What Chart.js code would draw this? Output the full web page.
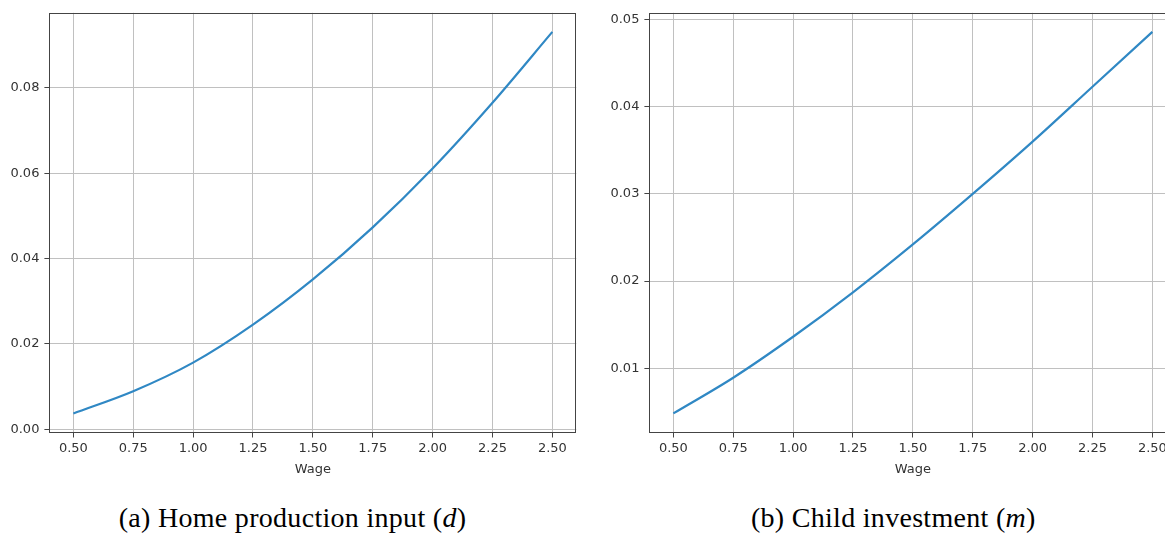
<!DOCTYPE html>
<html>
<head>
<meta charset="utf-8">
<script src="https://cdn.jsdelivr.net/npm/chart.js@4/dist/chart.umd.min.js"></script>
<style>
  html, body { margin: 0; padding: 0; background: #fff; overflow: hidden; }
  #page { position: relative; width: 1165px; height: 538px; overflow: hidden; }
  .panel { position: absolute; top: 0; width: 577px; height: 480px; }
  .caption {
    position: absolute; top: 504px; width: 500px;
    font-family: 'Liberation Serif', 'Times New Roman', serif;
    font-size: 28px; line-height: 1; letter-spacing: 0.3px;
    white-space: nowrap; color: #000; text-align: center;
  }
</style>
</head>
<body>
<div id="page">
  <div class="panel" style="left:0px"><canvas id="chartD"></canvas></div>
  <div class="panel" style="left:600px"><canvas id="chartM"></canvas></div>
  <div class="caption" style="left:42.5px">(a) Home production input (<i>d</i>)</div>
  <div class="caption" style="left:643.3px">(b) Child investment (<i>m</i>)</div>
</div>
<script>
// Wage grid and the two policy functions evaluated on it
const wage = [0.50, 0.75, 1.00, 1.25, 1.50, 1.75, 2.00, 2.25, 2.50];
const homeInput = [0.0037, 0.0089, 0.0156, 0.0245, 0.0351, 0.0473, 0.0611, 0.0765, 0.0931];
const childInvestment = [0.0048, 0.0089, 0.0136, 0.0187, 0.0242, 0.0300, 0.0360, 0.0423, 0.0486];

// Tick values
const wageTicks = [0.50, 0.75, 1.00, 1.25, 1.50, 1.75, 2.00, 2.25, 2.50];
const homeTicks = [0.00, 0.02, 0.04, 0.06, 0.08];
const childTicks = [0.01, 0.02, 0.03, 0.04, 0.05];

const LINE_BLUE = '#3088c4';
const GRID = '#c0c0c0';
const SPINE = '#444';
const TEXT = '#333';
const tickFont = { family: "'DejaVu Sans', sans-serif", size: 13 };

// axis limits padded by 5% of the data span on each side
function padded(values) {
  const lo = Math.min(...values), hi = Math.max(...values);
  const m = (hi - lo) * 0.05;
  return [lo - m, hi + m];
}

// full box around the plotting area
const framePlugin = {
  id: 'frame',
  afterDraw(chart) {
    const { ctx, chartArea: a } = chart;
    ctx.save();
    ctx.strokeStyle = SPINE;
    ctx.lineWidth = 1;
    const l = Math.round(a.left) + 0.5, t = Math.round(a.top) + 0.5;
    const r = Math.round(a.right) - 0.5, b = Math.round(a.bottom) - 0.5;
    ctx.strokeRect(l, t, r - l, b - t);
    ctx.restore();
  }
};

function makeChart(id, yValues, yTicks) {
  const [xMin, xMax] = padded(wage);
  const [yMin, yMax] = padded(yValues);
  return new Chart(document.getElementById(id), {
    type: 'line',
    data: {
      datasets: [{
        data: wage.map((w, i) => ({ x: w, y: yValues[i] })),
        borderColor: LINE_BLUE,
        borderWidth: 2.2,
        pointRadius: 0,
        fill: false,
        cubicInterpolationMode: 'monotone'
      }]
    },
    options: {
      responsive: true,
      maintainAspectRatio: false,
      animation: false,
      layout: { padding: { top: 10, right: 0.7, bottom: 0, left: 0 } },
      plugins: { legend: { display: false }, tooltip: { enabled: false } },
      scales: {
        x: {
          type: 'linear',
          min: xMin, max: xMax,
          afterBuildTicks: s => { s.ticks = wageTicks.map(v => ({ value: v })); },
          afterFit: s => { s.height = 47.5; },
          border: { display: false },
          grid: { color: GRID, lineWidth: 1, drawTicks: true, tickLength: 5, tickColor: SPINE, tickWidth: 1 },
          ticks: {
            autoSkip: false, maxRotation: 0, padding: 3,
            color: TEXT, font: tickFont,
            callback: v => Number(v).toFixed(2)
          },
          title: {
            display: true, text: 'Wage', color: TEXT, font: tickFont,
            padding: { top: 0, bottom: 3 }
          }
        },
        y: {
          type: 'linear',
          min: yMin, max: yMax,
          afterBuildTicks: s => { s.ticks = yTicks.map(v => ({ value: v })); },
          afterFit: s => { s.width = 49.4; },
          border: { display: false },
          grid: { color: GRID, lineWidth: 1, drawTicks: true, tickLength: 5, tickColor: SPINE, tickWidth: 1 },
          ticks: {
            autoSkip: false, padding: 5,
            color: TEXT, font: tickFont,
            callback: v => Number(v).toFixed(2)
          }
        }
      }
    },
    plugins: [framePlugin]
  });
}

makeChart('chartD', homeInput, homeTicks);
makeChart('chartM', childInvestment, childTicks);
</script>
</body>
</html>
